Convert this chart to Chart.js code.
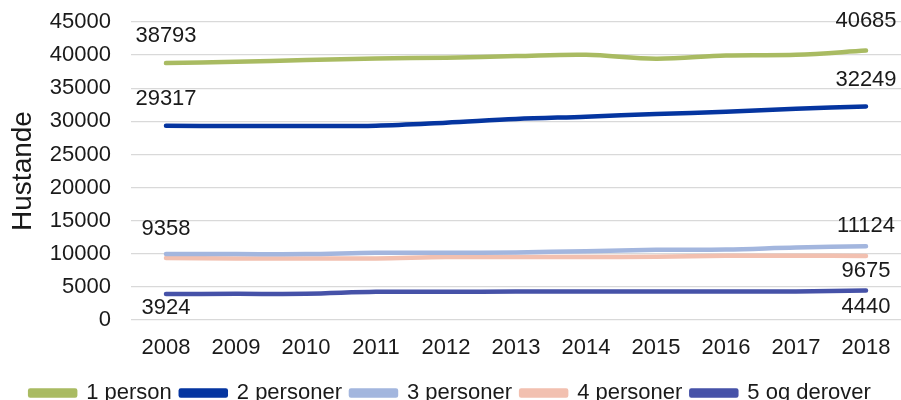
<!DOCTYPE html>
<html>
<head>
<meta charset="utf-8">
<script src="https://cdn.jsdelivr.net/npm/chart.js@4"></script>
<style>
  body { margin: 0; background: #fff; }
  #wrap { width: 901px; height: 400px; }
</style>
</head>
<body>
<div id="wrap"><canvas id="households"></canvas></div>
<script>
var years = ["2008", "2009", "2010", "2011", "2012", "2013", "2014", "2015", "2016", "2017", "2018"];

var onePerson    = [38793, 39000, 39250, 39500, 39600, 39850, 40050, 39450, 39950, 40050, 40685];
var twoPersons   = [29317, 29300, 29300, 29350, 29800, 30350, 30700, 31100, 31450, 31900, 32249];
var threePersons = [9950, 9950, 9950, 10150, 10150, 10200, 10400, 10600, 10650, 10950, 11124];
var fourPersons  = [9358, 9300, 9300, 9300, 9500, 9500, 9500, 9550, 9700, 9700, 9675];
var fivePlus     = [3924, 3950, 3950, 4250, 4250, 4300, 4300, 4300, 4300, 4300, 4440];

var seriesNames = ["1 person", "2 personer", "3 personer", "4 personer", "5 og derover"];
var seriesColors = ['#a9bb62', '#0535a0', '#a3b6de', '#f2c0b0', '#4652a8'];

// which points get a value label, and where (above / below the line)
var valueLabels = [
    { ds: 0, i: 0, dy: -27 }, { ds: 0, i: 10, dy: -30 },
    { ds: 1, i: 0, dy: -27 }, { ds: 1, i: 10, dy: -27 },
    { ds: 2, i: 10, dy: -20 },
    { ds: 3, i: 0, dy: -29 }, { ds: 3, i: 10, dy: 15 },
    { ds: 4, i: 0, dy: 14 }, { ds: 4, i: 10, dy: 16 }
];

var FONT = "'Liberation Sans', Arial, sans-serif";
Chart.defaults.font.family = FONT;
Chart.defaults.color = '#1a1a1a';

var valueLabelPlugin = {
    id: 'valueLabels',
    afterDatasetsDraw: function(chart) {
        var ctx = chart.ctx;
        ctx.save();
        ctx.font = '22px ' + FONT;
        ctx.fillStyle = '#1a1a1a';
        ctx.textAlign = 'center';
        ctx.textBaseline = 'middle';
        valueLabels.forEach(function(l) {
            var pt = chart.getDatasetMeta(l.ds).data[l.i];
            var v = chart.data.datasets[l.ds].data[l.i];
            ctx.fillText(String(v), pt.x, pt.y + l.dy);
        });
        ctx.restore();
    }
};

var allSeries = [onePerson, twoPersons, threePersons, fourPersons, fivePlus];
var datasets = allSeries.map(function(values, k) {
    return {
        label: seriesNames[k],
        data: values,
        borderColor: seriesColors[k],
        backgroundColor: seriesColors[k],
        borderWidth: 4.5,
        borderCapStyle: 'round',
        borderJoinStyle: 'round',
        pointRadius: 0,
        tension: 0.35,
        fill: false
    };
});

var householdsChart = new Chart(document.getElementById('households').getContext('2d'), {
    type: 'line',
    data: { labels: years, datasets: datasets },
    plugins: [valueLabelPlugin],
    options: {
        responsive: true,
        maintainAspectRatio: false,
        animation: false,
        layout: { padding: { top: 22, right: 0, bottom: -14, left: 0 } },
        plugins: {
            tooltip: { enabled: false },
            legend: {
                position: 'bottom',
                labels: {
                    boxWidth: 45,
                    boxHeight: 5,
                    padding: 9,
                    font: { size: 22 },
                    color: '#1a1a1a'
                }
            }
        },
        scales: {
            x: {
                offset: true,
                grid: { display: false, drawTicks: false },
                border: { display: false },
                ticks: { padding: 15, font: { size: 22 }, maxRotation: 0 },
                afterFit: function(s) {
                    s.height = 53;
                    s.paddingLeft = 0;
                    s.paddingRight = 0;
                }
            },
            y: {
                min: 0,
                max: 45000,
                ticks: {
                    stepSize: 5000,
                    padding: 20,
                    font: { size: 22 },
                    callback: function(v) { return String(v); }
                },
                grid: { color: '#d9d9d9', lineWidth: 1.3, drawTicks: false },
                border: { display: false },
                title: { display: true, text: 'Hustande', font: { size: 28 }, padding: { top: 6, bottom: 0 } },
                afterFit: function(s) {
                    s.width = 131;
                    s.paddingTop = 0;
                    s.paddingBottom = 0;
                }
            }
        }
    }
});
</script>
</body>
</html>
